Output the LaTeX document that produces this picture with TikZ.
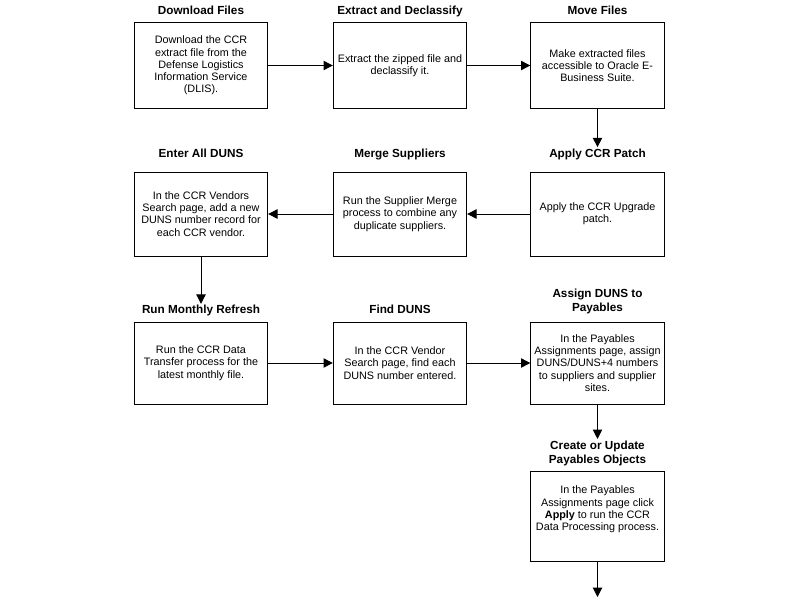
\documentclass[tikz,border=0pt]{standalone}
\usepackage{fontspec}
\setmainfont{Liberation Sans}
\usetikzlibrary{arrows.meta, positioning}

\begin{document}
\begin{tikzpicture}[
  x=0.75pt, y=-0.75pt,
  every node/.style={font=\fontsize{8.1}{9.2}\selectfont},
  stepbox/.style={rectangle, draw=black, line width=0.75pt, minimum width=100pt, minimum height=#1, align=center, inner sep=2pt},
  stepbox/.default=63pt,
  steptitle/.style={font=\fontsize{8.8}{10.5}\selectfont\bfseries, align=center, inner sep=1pt, text depth=2pt},
  flow/.style={-{Triangle[length=7pt, width=7pt]}, line width=0.75pt},
]
\useasboundingbox (0,0) rectangle (800,600);

% Row 1
\node[stepbox=64pt] (dl) at (201, 65.5) {Download the CCR\\extract file from the\\Defense Logistics\\Information Service\\(DLIS).};
\node[stepbox=64pt] (ex) at (400, 65.5) {Extract the zipped file and\\declassify it.};
\node[stepbox=64pt] (mv) at (597.5, 65.5) {Make extracted files\\accessible to Oracle E-\\Business Suite.};

% Row 2
\node[stepbox] (enter) at (201, 214) {In the CCR Vendors\\Search page, add a new\\DUNS number record for\\each CCR vendor.};
\node[stepbox] (merge) at (400, 214) {Run the Supplier Merge\\process to combine any\\duplicate suppliers.};
\node[stepbox] (patch) at (597.5, 214) {Apply the CCR Upgrade\\patch.};

% Row 3
\node[stepbox=61.5pt] (refresh) at (201, 363) {Run the CCR Data\\Transfer process for the\\latest monthly file.};
\node[stepbox=61.5pt] (find) at (400, 363) {In the CCR Vendor\\Search page, find each\\DUNS number entered.};
\node[stepbox=61.5pt] (assign) at (597.5, 363) {In the Payables\\Assignments page, assign\\DUNS/DUNS+4 numbers\\to suppliers and supplier\\sites.};

% Row 4
\node[stepbox=68pt] (create) at (597.5, 516.5) {In the Payables\\Assignments page click\\\textbf{Apply} to run the CCR\\Data Processing process.\\[3pt]\mbox{}};
\coordinate (tail) at (597.5, 597);

% Titles
\node[steptitle, above=3pt of dl] (dlT) {Download Files};
\node[steptitle, above=3pt of ex] (exT) {Extract and Declassify};
\node[steptitle, above=3pt of mv] (mvT) {Move Files};
\node[steptitle, above=7.5pt of enter] (enterT) {Enter All DUNS};
\node[steptitle, above=7.5pt of merge] (mergeT) {Merge Suppliers};
\node[steptitle, above=7.5pt of patch] (patchT) {Apply CCR Patch};
\node[steptitle, above=2.5pt of refresh] (refreshT) {Run Monthly Refresh};
\node[steptitle, above=2.5pt of find] (findT) {Find DUNS};
\node[steptitle, above=4.5pt of assign] (assignT) {Assign DUNS to\\Payables};
\node[steptitle, above=2.5pt of create] (createT) {Create or Update\\Payables Objects};

% Connectors
\draw[flow] (dl) -- (ex);
\draw[flow] (ex) -- (mv);
\draw[flow] (mv) -- (patchT);
\draw[flow] (patch) -- (merge);
\draw[flow] (merge) -- (enter);
\draw[flow] (enter) -- (refreshT);
\draw[flow] (refresh) -- (find);
\draw[flow] (find) -- (assign);
\draw[flow] (assign) -- (createT);
\draw[flow] (create) -- (tail);

\end{tikzpicture}
\end{document}
